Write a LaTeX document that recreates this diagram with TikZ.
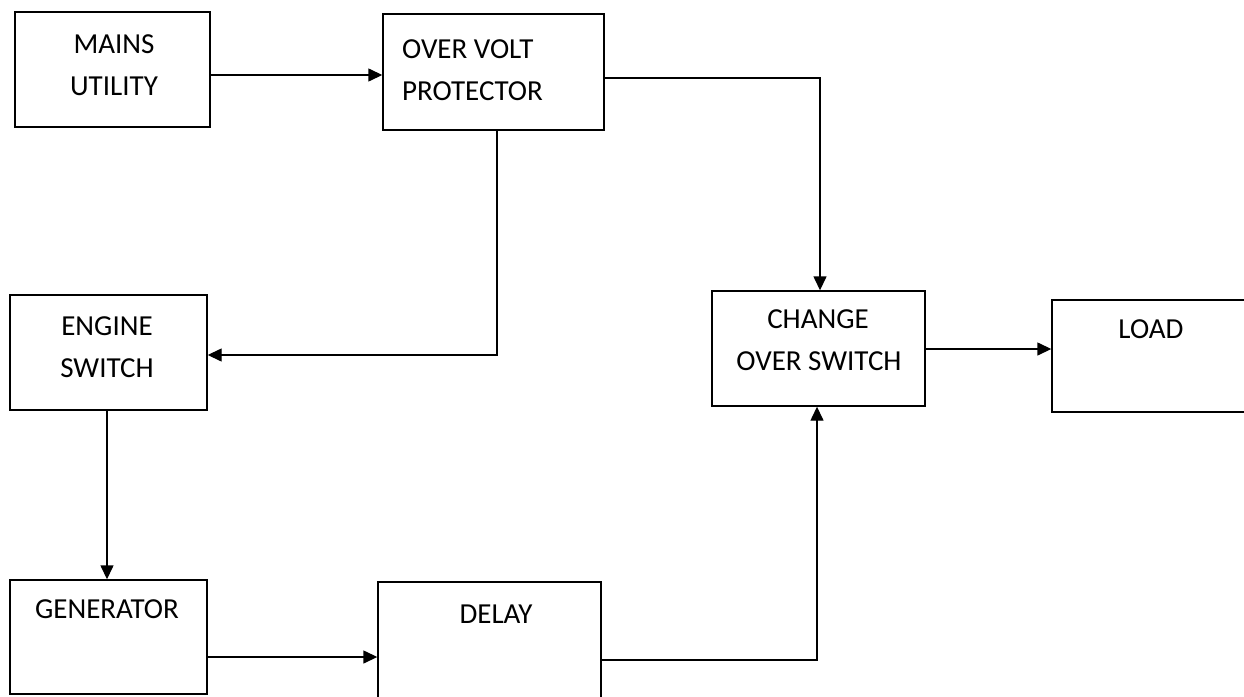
\documentclass[tikz,border=0pt]{standalone}
\usepackage{fontspec}
\setmainfont{Carlito}
\usetikzlibrary{arrows.meta}
\begin{document}
\begin{tikzpicture}[x=1pt,y=-1pt,
  blk/.style={draw,line width=1.4pt,inner sep=0pt},
  lbl/.style={inner sep=0pt,anchor=base,font=\fontsize{29}{42}\selectfont},
  arr/.style={line width=1.4pt,-{Triangle[length=14pt,width=13pt]}}]
\useasboundingbox (0,0) rectangle (1244,696);
\clip (0,0) rectangle (1244,696);
\fill[white] (0,0) rectangle (1244,696);
% boxes
\node[blk,minimum width=195pt,minimum height=115pt] (mains) at (112.5,69.5) {};
\node[blk,minimum width=221pt,minimum height=116pt] (ovp) at (493.5,72) {};
\node[blk,minimum width=197pt,minimum height=115pt] (engine) at (108.5,352.5) {};
\node[blk,minimum width=197pt,minimum height=114pt] (gen) at (108.5,637) {};
\node[blk,minimum width=223pt,minimum height=130pt] (delay) at (489.5,647) {};
\node[blk,minimum width=213pt,minimum height=115pt] (change) at (818.5,348.5) {};
\node[blk,minimum width=220pt,minimum height=112pt] (load) at (1162,356) {};
% labels
\node[lbl] (tmains1) at (114,53) {MAINS};
\node[lbl] (tmains2) at (114,95) {UTILITY};
\node[lbl,anchor=base west] (tovp1) at (402,58) {OVER VOLT};
\node[lbl,anchor=base west] (tovp2) at (402,100) {PROTECTOR};
\node[lbl] (tengine1) at (107,335) {ENGINE};
\node[lbl] (tengine2) at (107,377) {SWITCH};
\node[lbl] (tgen) at (107,618) {GENERATOR};
\node[lbl] (tdelay) at (496,623) {DELAY};
\node[lbl] (tchange1) at (818,328) {CHANGE};
\node[lbl] (tchange2) at (819,370) {OVER SWITCH};
\node[lbl] (tload) at (1151,338) {LOAD};
% bend points
\coordinate (a1) at (0,75);
\coordinate (b1) at (820,78);
\coordinate (b2) at (497,355);
\coordinate (b3) at (0,657);
\coordinate (b4) at (817,660);
\coordinate (v1) at (107,0);
\coordinate (h1) at (0,349);
% connectors
\draw[arr] (mains.east |- a1) -- (ovp.west |- a1);
\draw[arr] (ovp.east |- b1) -- (b1) -- (change.north -| b1);
\draw[arr] (ovp.south -| b2) -- (b2) -- (engine.east |- b2);
\draw[arr] (engine.south -| v1) -- (gen.north -| v1);
\draw[arr] (gen.east |- b3) -- (delay.west |- b3);
\draw[arr] (delay.east |- b4) -- (b4) -- (change.south -| b4);
\draw[arr] (change.east |- h1) -- (load.west |- h1);
\end{tikzpicture}
\end{document}
